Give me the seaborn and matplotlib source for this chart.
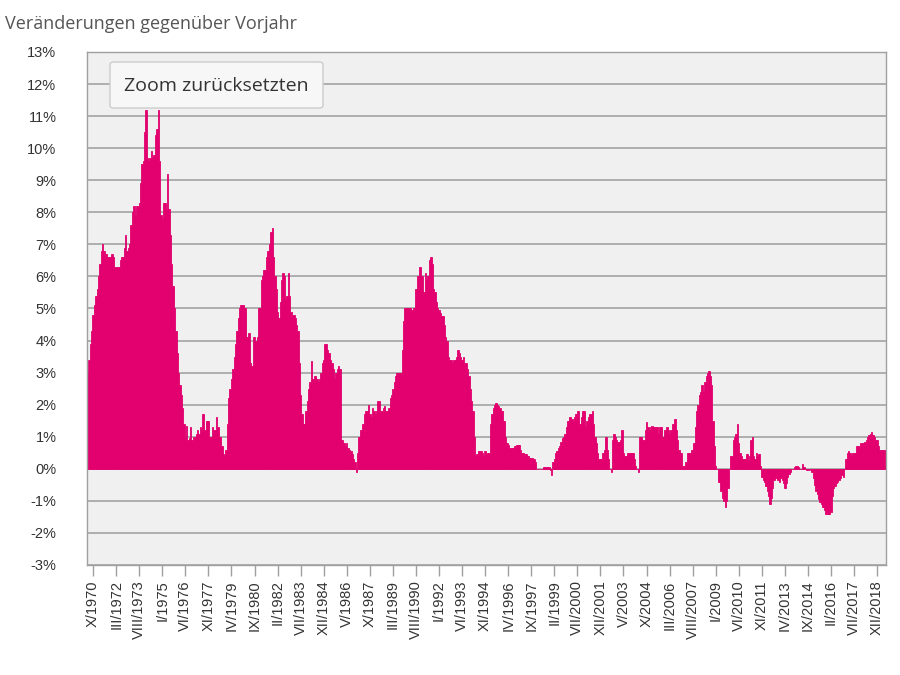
import pandas as pd
import seaborn as sns
import matplotlib.pyplot as plt
from matplotlib.ticker import FuncFormatter
from matplotlib.patches import FancyBboxPatch

# Veränderung gegenüber Vorjahr in %, monatlich ab VI/1970
werte_70er = [
    3.0, 3.4, 3.9, 4.3, 4.8, 5.1, 5.4,                                  # 1970 (VI-XII)
    5.6, 6.0, 6.4, 6.8, 7.0, 6.8, 6.7, 6.7, 6.6, 6.6, 6.6, 6.7,          # 1971
    6.6, 6.3, 6.3, 6.3, 6.3, 6.5, 6.6, 6.6, 6.9, 7.3, 6.8, 6.9,          # 1972
    7.0, 7.6, 8.0, 8.2, 7.9, 8.2, 8.2, 8.3, 8.9, 9.5, 9.6, 10.5,         # 1973
    11.2, 9.7, 9.6, 9.7, 9.9, 9.7, 9.8, 10.4, 10.6, 11.2, 9.6, 7.9,      # 1974
    7.8, 8.3, 8.3, 8.1, 9.2, 8.1, 7.3, 6.4, 5.7, 5.0, 4.3, 3.6,          # 1975
    3.0, 2.6, 2.3, 1.9, 1.4, 0.95, 1.35, 0.9, 0.95, 1.3, 0.9, 1.0,       # 1976
    1.0, 1.1, 1.2, 1.1, 1.3, 1.2, 1.7, 1.2, 1.2, 1.5, 1.5, 1.0,          # 1977
    1.0, 1.3, 1.2, 1.2, 1.6, 1.3, 1.0, 1.0, 0.7, 0.45, 0.4, 0.6,         # 1978
    1.4, 2.2, 2.5, 2.8, 3.1, 3.5, 3.9, 4.3, 4.7, 5.0, 5.1, 5.1,          # 1979
]
werte_80er = [
    5.1, 5.0, 4.1, 4.1, 4.25, 3.3, 3.2, 4.1, 4.1, 4.0, 4.1, 5.0,         # 1980
    5.0, 5.9, 6.0, 6.2, 6.2, 6.6, 6.8, 7.0, 7.4, 7.5, 6.6, 6.0,          # 1981
    5.6, 4.9, 4.7, 5.2, 5.9, 6.1, 6.0, 5.3, 5.4, 6.1, 5.4, 4.9,          # 1982
    4.8, 4.8, 4.7, 4.5, 4.3, 3.3, 2.3, 1.7, 1.4, 1.4, 1.8, 2.1,          # 1983
    2.5, 2.7, 3.35, 2.8, 2.9, 2.9, 2.8, 2.7, 2.8, 3.0, 3.3, 3.4,         # 1984
    3.9, 3.9, 3.7, 3.6, 3.4, 3.3, 3.1, 2.8, 3.0, 3.1, 3.2, 3.1,          # 1985
    0.9, 0.9, 0.8, 0.7, 0.8, 0.65, 0.6, 0.55, 0.45, 0.3, 0.2, -0.1,      # 1986
    0.5, 1.0, 1.2, 1.2, 1.4, 1.7, 1.8, 1.8, 2.0, 1.7, 1.6, 1.9,          # 1987
    1.8, 1.7, 1.8, 2.1, 2.1, 1.8, 1.8, 1.9, 1.95, 1.8, 1.8, 1.9,         # 1988
    2.2, 2.3, 2.5, 2.7, 2.9, 3.0, 3.0, 3.0, 3.0, 3.7, 4.6, 5.0,          # 1989
]
werte_90er = [
    5.0, 5.0, 5.0, 5.0, 4.95, 5.0, 5.0, 5.6, 6.0, 6.0, 6.3, 6.0,         # 1990
    6.0, 5.5, 6.1, 5.9, 6.0, 6.5, 6.6, 6.4, 5.6, 5.5, 5.2, 5.0,          # 1991
    4.95, 4.85, 4.75, 4.75, 4.5, 4.1, 4.0, 3.5, 3.4, 3.4, 3.3, 3.4,      # 1992
    3.4, 3.5, 3.7, 3.6, 3.5, 3.4, 3.5, 3.3, 3.3, 3.1, 2.9, 2.5,          # 1993
    2.1, 1.8, 1.0, 0.4, 0.45, 0.55, 0.55, 0.55, 0.5, 0.4, 0.55, 0.45,    # 1994
    0.5, 0.5, 1.4, 1.7, 1.9, 2.0, 2.05, 2.0, 1.95, 1.9, 1.8, 1.8,        # 1995
    1.5, 1.0, 0.8, 0.75, 0.65, 0.65, 0.65, 0.65, 0.7, 0.75, 0.75, 0.75,  # 1996
    0.6, 0.5, 0.5, 0.45, 0.45, 0.4, 0.4, 0.35, 0.35, 0.35, 0.3, 0.2,     # 1997
    0.0, 0.0, 0.0, 0.0, 0.0, 0.05, 0.05, 0.05, 0.05, 0.05, -0.05, -0.2,  # 1998
    0.2, 0.3, 0.5, 0.55, 0.65, 0.7, 0.85, 0.95, 1.0, 1.1, 1.3, 1.5,      # 1999
]
werte_00er = [
    1.6, 1.6, 1.55, 1.5, 1.6, 1.7, 1.8, 1.8, 1.4, 1.6, 1.8, 1.8,         # 2000
    1.3, 1.5, 1.6, 1.7, 1.7, 1.8, 1.4, 1.0, 0.8, 0.5, 0.3, 0.3,          # 2001
    0.3, 0.5, 0.6, 1.0, 0.6, 0.3, 0.0, -0.1, 0.9, 1.1, 1.0, 0.9,         # 2002
    0.85, 0.85, 0.9, 1.2, 0.5, 0.4, 0.4, 0.5, 0.5, 0.5, 0.5, 0.5,        # 2003
    0.3, 0.1, 0.0, -0.1, 1.0, 1.0, 0.9, 0.9, 1.2, 1.45, 1.3, 1.2,        # 2004
    1.3, 1.35, 1.3, 1.3, 1.3, 1.3, 1.1, 1.3, 1.3, 1.0, 1.2, 1.2,         # 2005
    1.3, 1.2, 1.1, 1.2, 1.4, 1.4, 1.55, 1.2, 0.9, 0.6, 0.5, 0.5,         # 2006
    0.1, 0.1, 0.2, 0.5, 0.5, 0.5, 0.6, 0.6, 0.8, 1.3, 1.8, 2.0,          # 2007
    2.3, 2.4, 2.6, 2.4, 2.7, 2.9, 3.0, 3.05, 2.9, 2.6, 1.5, 0.7,         # 2008
    0.1, 0.0, -0.4, -0.4, -0.7, -0.9, -1.0, -1.2, -1.0, -0.6, 0.0, 0.4,  # 2009
]
werte_10er = [
    0.4, 0.9, 1.0, 1.1, 1.4, 0.8, 0.5, 0.4, 0.3, 0.3, 0.3, 0.45,                  # 2010
    0.25, 0.4, 0.9, 1.0, 0.4, 0.3, 0.5, 0.4, 0.45, 0.1, -0.25, -0.35,             # 2011
    -0.4, -0.55, -0.7, -0.85, -1.1, -0.9, -0.6, -0.35, -0.3, -0.3, -0.35, -0.4,   # 2012
    -0.3, -0.35, -0.45, -0.6, -0.45, -0.25, -0.15, -0.1, 0.0, 0.0, 0.05, 0.1,     # 2013
    0.1, 0.05, 0.0, 0.0, 0.15, 0.05, 0.0, -0.05, -0.05, 0.0, -0.05, -0.1,         # 2014
    -0.3, -0.5, -0.7, -0.8, -0.95, -1.05, -1.1, -1.2, -1.3, -1.4, -1.4, -1.4,     # 2015
    -1.4, -1.35, -0.85, -0.6, -0.55, -0.45, -0.4, -0.35, -0.3, -0.2, -0.25, 0.0,  # 2016
    0.3, 0.5, 0.55, 0.5, 0.4, 0.5, 0.5, 0.5, 0.7, 0.7, 0.7, 0.8,                  # 2017
    0.8, 0.8, 0.85, 0.9, 1.0, 1.05, 1.1, 1.15, 1.05, 1.0, 0.9, 0.9,               # 2018
    0.7, 0.6, 0.6, 0.6, 0.6, 0.6,                                                 # 2019 (I-VI)
]

roemisch = ['I', 'II', 'III', 'IV', 'V', 'VI', 'VII', 'VIII', 'IX', 'X', 'XI', 'XII']

werte = werte_70er + werte_80er + werte_90er + werte_00er + werte_10er
monate = pd.period_range('1970-06', periods=len(werte), freq='M')
df = pd.DataFrame({
    'monat': [f'{roemisch[p.month - 1]}/{p.year}' for p in monate],
    'wert': werte,
})

farbe = '#e2006e'

sns.set_style('white')
plt.rcParams['font.family'] = ['Liberation Sans', 'DejaVu Sans']

fig = plt.figure(figsize=(9, 6.75), dpi=100)
ax = fig.add_axes([0.0967, 0.163, 0.8877, 0.760])
ax.set_facecolor('#f0f0f0')

sns.barplot(data=df, x='monat', y='wert', color=farbe, saturation=1,
            width=1.0, linewidth=0.6, edgecolor=farbe, ax=ax)

ax.set_ylim(-3, 13)
ax.set_yticks(range(-3, 14))
ax.yaxis.set_major_formatter(FuncFormatter(lambda v, _: f'{v:.0f}%'))
ax.yaxis.grid(True, color='#a9a9a9', linewidth=1.3)
ax.xaxis.grid(False)
ax.set_axisbelow(True)

tick_pos = list(range(4, len(df), 17))
ax.set_xticks(tick_pos)
ax.set_xticklabels(df['monat'].iloc[tick_pos], rotation=90)
ax.set_xlim(-0.5, len(df) - 0.5)
ax.set_xlabel('')
ax.set_ylabel('')

ax.tick_params(axis='y', length=0, pad=22, labelsize=10.5, labelcolor='#333333')
ax.tick_params(axis='x', length=8, width=1, color='#a0a0a0', pad=3,
               labelsize=10.5, labelcolor='#333333', bottom=True)

for s in ax.spines.values():
    s.set_color('#a0a0a0')
    s.set_linewidth(1)

fig.text(0.006, 0.978, 'Veränderungen gegenüber Vorjahr', ha='left', va='top',
         fontsize=13, color='#555555', family=['Open Sans', 'DejaVu Sans'])

knopf = FancyBboxPatch((110 / 900, 1 - 108 / 675), 213 / 900, 46 / 675,
                       boxstyle='round,pad=0,rounding_size=0.004',
                       transform=fig.transFigure, facecolor='#f7f7f7',
                       edgecolor='#cccccc', linewidth=1, zorder=5)
fig.patches.append(knopf)
fig.text(216 / 900, 1 - 86 / 675, 'Zoom zurücksetzten', ha='center', va='center',
         fontsize=14, color='#333333', family=['Open Sans', 'DejaVu Sans'], zorder=6)

fig.savefig('out.png', dpi=100)
